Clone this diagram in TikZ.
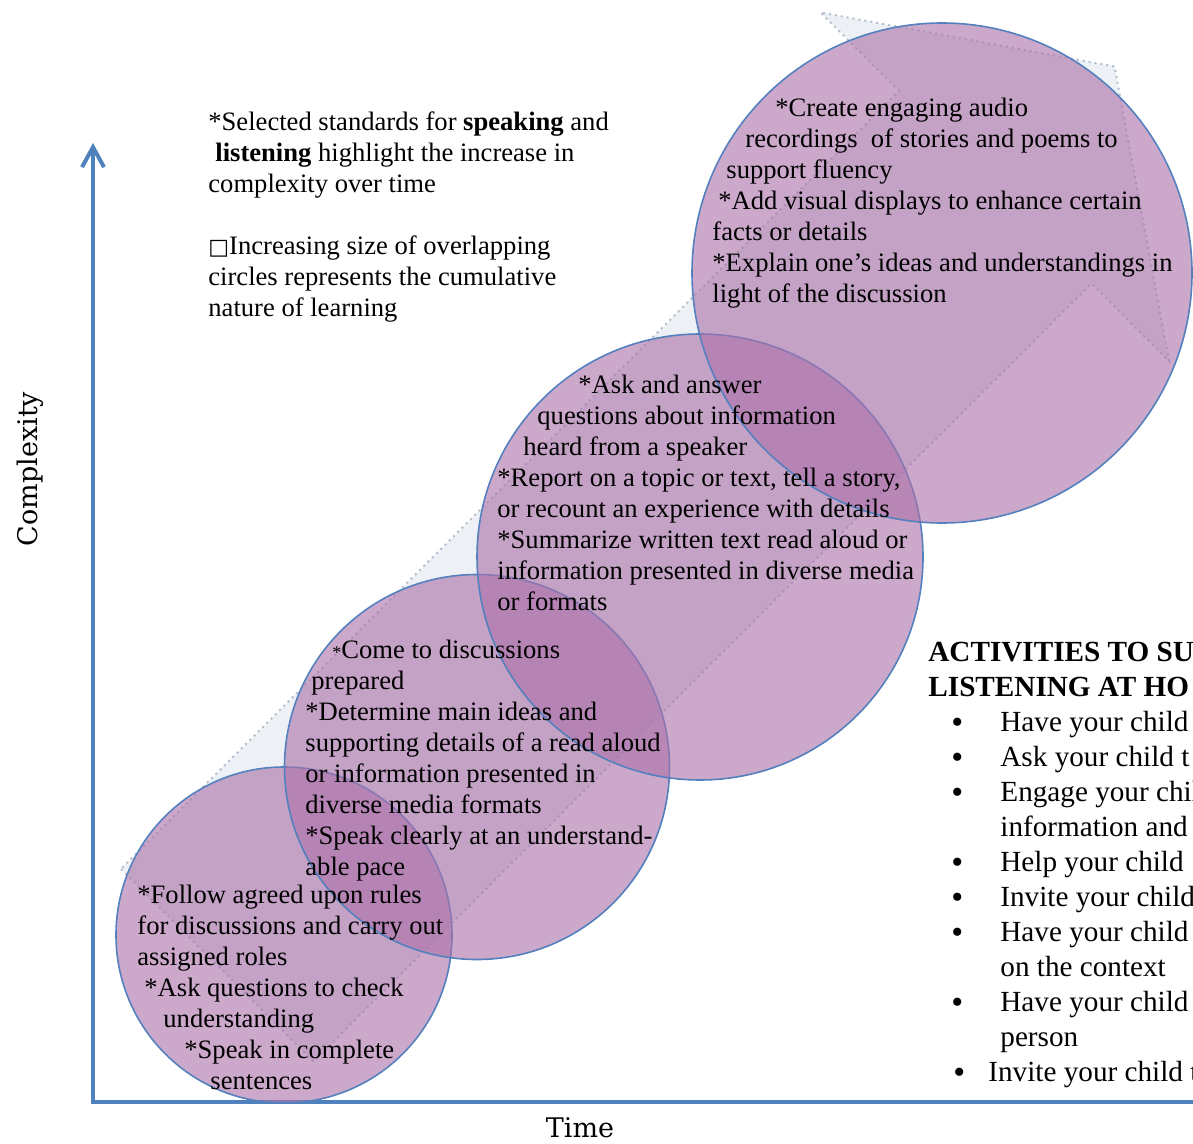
\documentclass[tikz,border=0pt]{standalone}
\usepackage{fontspec}
\setmainfont{Liberation Serif}
\newfontfamily\axisfnt{DejaVu Serif}
\newfontfamily\boxfnt{DejaVu Sans}
\usetikzlibrary{arrows.meta}
\definecolor{axisblue}{RGB}{79,129,189}
\definecolor{bubblefill}{RGB}{172,115,170}
\definecolor{bubbleline}{RGB}{84,128,190}
\definecolor{arrowfill}{RGB}{237,240,245}
\definecolor{arrowline}{RGB}{178,190,206}
\newcommand{\dotmark}{\raisebox{-1pt}{\fontsize{17}{17}\selectfont •}}
\tikzset{
  bubble/.style={circle, draw=bubbleline, line width=0.8pt, fill=bubblefill, fill opacity=0.62, inner sep=0pt},
  blurb/.style={anchor=north west, inner sep=0pt, align=left, font=\fontsize{13.3}{15.5}\selectfont, execute at begin node=\strut},
  axis/.style={draw=axisblue, line width=2pt},
}
\begin{document}
\begin{tikzpicture}[x=0.5pt, y=-0.5pt]
\useasboundingbox (0,0) rectangle (1193,1144);
\draw[arrowline, dotted, line width=1pt, fill=arrowfill] (121,869) -- (313.5,1061.5) -- (1091.5,283.5) -- (1169,361) -- (1114.5,66.5) -- (820.5,12.5) -- (899,91) -- cycle;
\coordinate (orig) at (93,1102);
\coordinate (ytip) at (93,143);
\coordinate (xend) at (1210,1102);
\draw[axis, {Straight Barb[length=10pt,width=11pt]}-] (ytip) -- (orig) -- (xend);
\node[font=\axisfnt\fontsize{13.5}{16}\selectfont, rotate=90] (ylab) at (30,469) {Complexity};
\node[font=\axisfnt\fontsize{13.5}{16}\selectfont] (xlab) at (580,1128) {Time};

\node[bubble, minimum size=168pt] (c1) at (284,935) {};
\node[bubble, minimum size=192.5pt] (c2) at (477,767) {};
\node[bubble, minimum size=223pt] (c3) at (700,557) {};
\node[bubble, minimum size=250pt] (c4) at (942,273) {};

\node[blurb] (note) at (208,111) {*Selected standards for \textbf{speaking} and\\
  \hspace*{3.5pt}\textbf{listening} highlight the increase in\\
  complexity over time\\[15.5pt]
  {\boxfnt\fontsize{11}{11}\selectfont □}Increasing size of overlapping\\
  circles represents the cumulative\\
  nature of learning};
\node[blurb] (t4) at (712,98) {\hspace*{31.5pt}*Create engaging audio\\
  \hspace*{16.5pt}recordings\ \ of stories and poems to\\
  \hspace*{7pt}support fluency\\
  \hspace*{3pt}*Add visual displays to enhance certain\\
  facts or details\\
  *Explain one’s ideas and understandings in\\
  light of the discussion};
\node[blurb] (t3) at (497,375) {\hspace*{40.5pt}*Ask and answer\\
  \hspace*{20pt}questions about information\\
  \hspace*{13pt}heard from a speaker\\
  *Report on a topic or text, tell a story,\\
  or recount an experience with details\\
  *Summarize written text read aloud or\\
  information presented in diverse media\\
  or formats};
\node[blurb] (t2) at (305,640) {\hspace*{13.5pt}{\fontsize{9}{9}\selectfont *}Come to discussions\\
  \hspace*{3pt}prepared\\
  *Determine main ideas and\\
  supporting details of a read aloud\\
  or information presented in\\
  diverse media formats\\
  *Speak clearly at an understand-\\
  able pace};
\node[blurb] (t1) at (137,885) {*Follow agreed upon rules\\
  for discussions and carry out\\
  assigned roles\\
  \hspace*{3.5pt}*Ask questions to check\\
  \hspace*{13pt}understanding\\
  \hspace*{23.5pt}*Speak in complete\\
  \hspace*{36.5pt}sentences};
\node[blurb, font=\fontsize{14.6}{17.5}\selectfont] (acts) at (928,642) {\textbf{ACTIVITIES TO SU}\\
  \textbf{LISTENING AT HO}\\
  \hspace*{11.5pt}\makebox[24.5pt][l]{\dotmark}Have your child\\
  \hspace*{11.5pt}\makebox[24.5pt][l]{\dotmark}Ask your child t\\
  \hspace*{11.5pt}\makebox[24.5pt][l]{\dotmark}Engage your chil\\
  \hspace*{36pt}information and\\
  \hspace*{11.5pt}\makebox[24.5pt][l]{\dotmark}Help your child\\
  \hspace*{11.5pt}\makebox[24.5pt][l]{\dotmark}Invite your child\\
  \hspace*{11.5pt}\makebox[24.5pt][l]{\dotmark}Have your child\\
  \hspace*{36pt}on the context\\
  \hspace*{11.5pt}\makebox[24.5pt][l]{\dotmark}Have your child\\
  \hspace*{36pt}person\\
  \hspace*{12.5pt}\makebox[17.5pt][l]{\dotmark}Invite your child t};
\end{tikzpicture}
\end{document}
